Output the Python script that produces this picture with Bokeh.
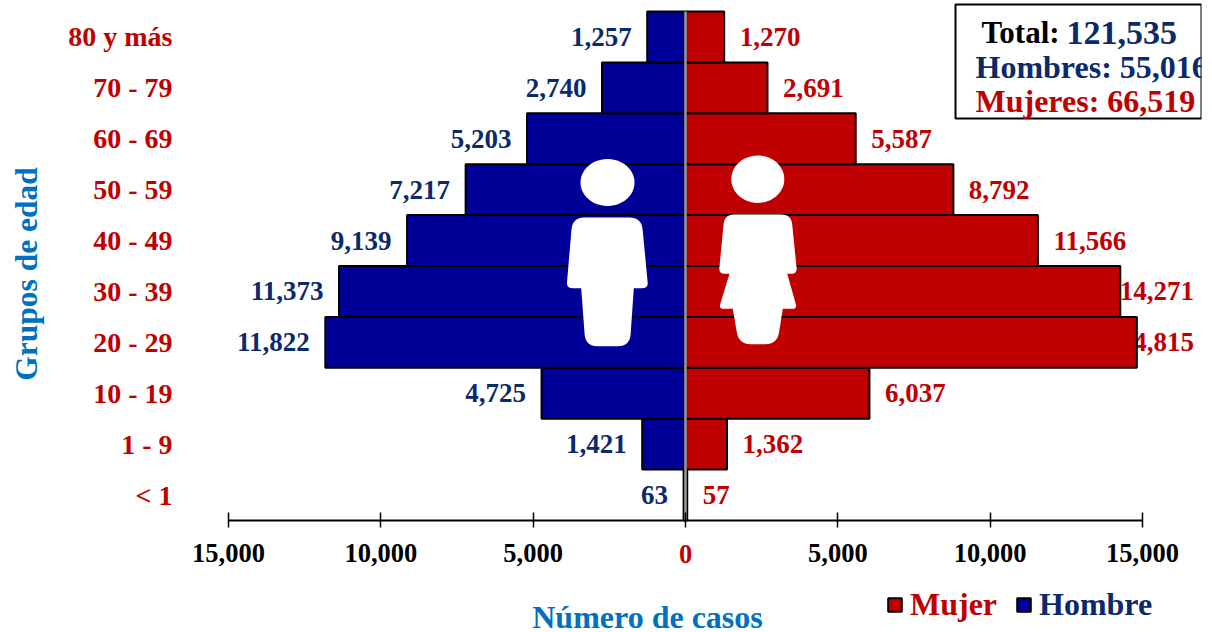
from bokeh.plotting import figure
from bokeh.embed import file_html
from bokeh.resources import INLINE
from bokeh.core.properties import value
from bokeh.models import (FixedTicker, Range1d, BoxAnnotation, Label, Legend, LegendItem)
import numpy as np

groups = ["< 1", "1 - 9", "10 - 19", "20 - 29", "30 - 39", "40 - 49", "50 - 59", "60 - 69", "70 - 79", "80 y más"]
men = [63, 1421, 4725, 11822, 11373, 9139, 7217, 5203, 2740, 1257]
women = [57, 1362, 6037, 14815, 14271, 11566, 8792, 5587, 2691, 1270]
ticks = [-15000, -10000, -5000, 0, 5000, 10000, 15000]
tick_labels = {-15000: "15,000", -10000: "10,000", -5000: "5,000", 0: "", 5000: "5,000", 10000: "10,000", 15000: "15,000"}

RED, BLUE, NAVY, TITLE = "#C00000", "#000099", "#0B2A6B", "#0070C0"
SERIF = "Liberation Serif"
W, H = 1212, 632
FL, FR, FT, FB = 0, 1201, 0, 632
X0, PX = 685.0, 457.0 / 15000
ROW = 50.9


def dx(px):
    return (np.asarray(px, dtype=float) - X0) / PX


def dy(py):
    return (520.0 - np.asarray(py, dtype=float)) / ROW - 0.5


p = figure(width=W, height=H, output_backend="svg", toolbar_location=None,
           x_range=Range1d(float(dx(FL)), float(dx(FR))), y_range=Range1d(float(dy(FB)), float(dy(FT))),
           min_border_left=0, min_border_right=W - FR, min_border_top=0, min_border_bottom=0,
           outline_line_color=None, background_fill_color="white", border_fill_color="white")
p.grid.visible = False

# axes
xa = p.xaxis[0]
xa.fixed_location = float(dy(520))
xa.ticker = FixedTicker(ticks=ticks)
xa.major_label_overrides = tick_labels
xa.bounds = (-15000, 15000)
xa.axis_line_color = "black"
xa.axis_line_width = 2
xa.major_tick_line_color = "black"
xa.major_tick_line_width = 1.5
xa.major_tick_out = 7
xa.major_tick_in = 8
xa.minor_tick_line_color = None
xa.major_label_standoff = 16
xa.major_label_text_font = SERIF
xa.major_label_text_font_style = "bold"
xa.major_label_text_font_size = "26.5px"
xa.major_label_text_color = "black"

ya = p.yaxis[0]
ya.fixed_location = float(dx(182))
ya.ticker = FixedTicker(ticks=list(range(len(groups))))
ya.major_label_overrides = {i: g for i, g in enumerate(groups)}
ya.axis_line_color = None
ya.major_tick_line_color = None
ya.minor_tick_line_color = None
ya.major_label_standoff = 4
ya.major_label_text_font = SERIF
ya.major_label_text_font_style = "bold"
ya.major_label_text_font_size = "28px"
ya.major_label_text_color = RED

# frame of the totals box, beneath the glyphs
p.add_layout(BoxAnnotation(left=float(dx(955)), right=float(dx(1201)), top=float(dy(4)), bottom=float(dy(118)),
                           fill_color="white", fill_alpha=1, line_color="black", line_alpha=1, line_width=2, level="underlay"))

y = list(range(len(groups)))
label_common = dict(text_font=value(SERIF), text_font_style="bold", text_font_size="27px", text_baseline="middle")

# value labels sit under the bars, as in the reference
p.text(x=[-v for v in men], y=y, text=[f"{v:,}" for v in men], text_align="right", x_offset=-15.5,
       text_color=NAVY, **label_common)
low = [(i, v) for i, v in enumerate(women) if v < 14000]
high = [(i, v) for i, v in enumerate(women) if v >= 14000]
p.text(x=[v for _, v in low], y=[i for i, _ in low], text=[f"{v:,}" for _, v in low], text_align="left", x_offset=15.5,
       text_color=RED, **label_common)
p.text(x=[float(dx(1193.5))] * len(high), y=[i for i, _ in high], text=[f"{v:,}" for _, v in high], text_align="right",
       text_color=RED, **label_common)

r_m = p.hbar(y=y, left=[-v for v in men], right=0, height=1, fill_color=BLUE, line_color="black", line_width=2)
r_w = p.hbar(y=y, left=0, right=women, height=1, fill_color=RED, line_color="black", line_width=2)
p.segment(x0=[0], x1=[0], y0=[-0.5], y1=[9.5], line_color="#999999", line_width=2.5)


def rounded(points):
    xs, ys = [], []
    n = len(points)
    for i, (x, yy, r) in enumerate(points):
        if r == 0:
            xs.append(x)
            ys.append(yy)
            continue
        a = np.array(points[i - 1][:2], dtype=float)
        b = np.array([x, yy], dtype=float)
        c = np.array(points[(i + 1) % n][:2], dtype=float)
        s = b + (a - b) / np.linalg.norm(a - b) * r
        e = b + (c - b) / np.linalg.norm(c - b) * r
        for t in np.linspace(0, 1, 8):
            q = (1 - t) ** 2 * s + 2 * t * (1 - t) * b + t ** 2 * e
            xs.append(q[0])
            ys.append(q[1])
    return xs, ys


def icon(head, body):
    cx, cy, rx, ry = head
    t = np.linspace(0, 2 * np.pi, 60)
    p.patch(dx(cx + rx * np.cos(t)), dy(cy + ry * np.sin(t)), fill_color="white", line_color=None)
    bx, by = rounded(body)
    p.patch(dx(bx), dy(by), fill_color="white", line_color=None)


icon((607, 182, 27, 23.5), [(572, 217, 12), (641, 217, 12), (647.7, 287.7, 6), (633.3, 287.7, 0),
                            (629.3, 345.7, 12), (585, 345.7, 12), (580.7, 287.7, 0), (566, 287.7, 6)])
icon((757.3, 178.7, 26.5, 23.7), [(724, 214, 10), (790.7, 214, 10), (796.7, 273.3, 6), (786.7, 273.3, 0),
                                  (796.7, 308.3, 5), (782.3, 308.3, 0), (776.7, 343.7, 12), (738.3, 343.7, 12),
                                  (732.3, 308.3, 0), (718.3, 308.3, 5), (729, 273.3, 0), (718.3, 273.3, 6)])

# totals (glyphs, so the frame edge cuts the last digit)
box = dict(text_font=value(SERIF), text_font_style="bold", text_baseline="middle", text_align="left")
p.text(x=[float(dx(981))], y=[float(dy(32))], text=["Total:"], text_color="black", text_font_size="31px", **box)
p.text(x=[float(dx(1066))], y=[float(dy(32))], text=["121,535"], text_color=NAVY, text_font_size="34px", **box)
p.text(x=[float(dx(975))], y=[float(dy(66))], text=["Hombres: 55,016"], text_color=NAVY, text_font_size="32px", **box)
p.text(x=[float(dx(975))], y=[float(dy(100))], text=["Mujeres: 66,519"], text_color=RED, text_font_size="32px", **box)

# red zero and axis titles
p.add_layout(Label(x=float(dx(685)), y=float(dy(553)), text="0", text_color=RED, text_align="center",
                   text_baseline="middle", text_font=SERIF, text_font_style="bold", text_font_size="26.5px"))
p.add_layout(Label(x=float(dx(647)), y=float(dy(616)), text="Número de casos", text_color=TITLE, text_align="center",
                   text_baseline="middle", text_font=SERIF, text_font_style="bold", text_font_size="32px"))
p.add_layout(Label(x=float(dx(26)), y=float(dy(273.5)), text="Grupos de edad", text_color=TITLE, text_align="center",
                   angle=np.pi / 2, text_baseline="middle", text_font=SERIF, text_font_style="bold", text_font_size="31.5px"))

# two one-item legends so each label keeps its own colour
for name, r, col, left in (("Mujer", r_w, RED, 886), ("Hombre", r_m, NAVY, 1015)):
    lg = Legend(items=[LegendItem(label=name, renderers=[r])], location=(left - FL, H - 623), orientation="horizontal",
                background_fill_alpha=0, border_line_color=None, margin=0, padding=0, glyph_width=17, glyph_height=17,
                label_standoff=7, spacing=0, label_text_font=SERIF, label_text_font_style="bold",
                label_text_font_size="32px", label_text_color=col)
    p.add_layout(lg)

open("out.html", "w").write(file_html(p, INLINE))
